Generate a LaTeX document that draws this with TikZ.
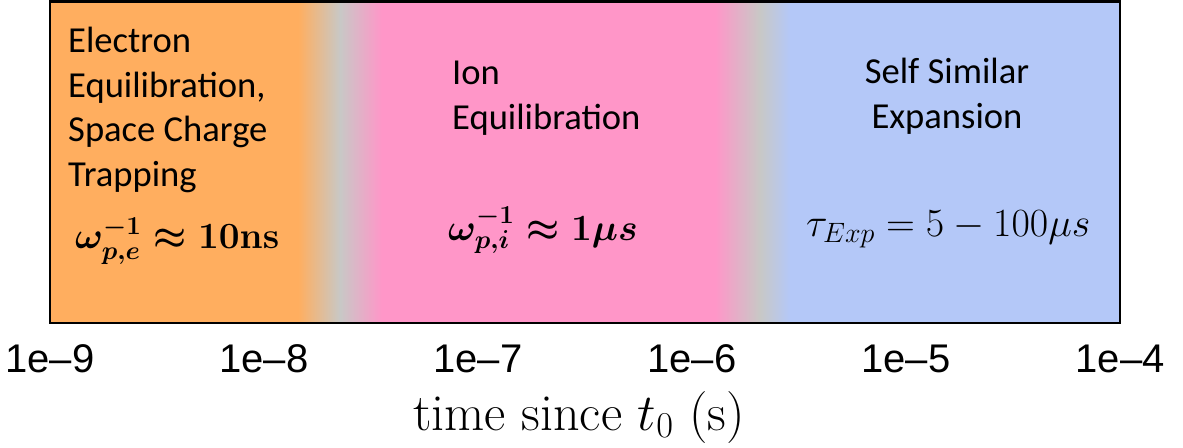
\RequirePackage{fix-cm}
\documentclass[tikz,border=0pt]{standalone}
\usepackage{amsmath}
\usepackage{fontspec}
\newfontfamily\calib{Carlito}
\newfontfamily\helv{Liberation Sans}
\usetikzlibrary{positioning}
\definecolor{eorange}{RGB}{255,174,95}
\definecolor{ipink}{RGB}{255,150,200}
\definecolor{sblue}{RGB}{180,200,248}
\definecolor{mixgray}{RGB}{200,200,198}

\begin{document}
\begin{tikzpicture}[x=1pt,y=-1pt,
  phaselbl/.style={font=\calib\fontsize{36.6}{44.6}\selectfont,inner sep=0pt},
  ratelbl/.style={font=\fontsize{37}{44}\selectfont,inner sep=0pt,anchor=base west},
  ticklbl/.style={font=\helv\fontsize{40}{46}\selectfont,inner sep=0pt,anchor=base}]
  \useasboundingbox (0,0) rectangle (1183,447);

  % the three regimes, blended into each other
  \fill[eorange] (50,1.5) rectangle (298,323);
  \shade[left color=eorange,right color=mixgray] (298,1.5) rectangle (340,323);
  \shade[left color=mixgray,right color=ipink] (340,1.5) rectangle (382,323);
  \fill[ipink] (382,1.5) rectangle (715,323);
  \shade[left color=ipink,right color=mixgray] (715,1.5) rectangle (760,323);
  \shade[left color=mixgray,right color=sblue] (760,1.5) rectangle (790,323);
  \fill[sblue] (790,1.5) rectangle (1120,323);
  \draw[line width=2.5pt] (50,1.5) rectangle (1120,323);

  \node[phaselbl,align=left,anchor=north west] (elec) at (68,27) {Electron\\Equilibration,\\Space Charge\\Trapping};
  \node[ratelbl] (erate) at (75,248) {{\boldmath$\omega^{-1}_{p,e}\approx\mathbf{10ns}$}};

  \node[phaselbl,align=left,anchor=north west] (ion) at (452,61) {Ion\\Equilibration};
  \node[ratelbl] (irate) at (448,240) {{\boldmath$\omega^{-1}_{p,i}\approx 1\mu s$}};

  \node[phaselbl,align=center,anchor=north] (self) at (947,58) {Self Similar\\Expansion};
  \node[ratelbl,font=\fontsize{40}{46}\selectfont] (srate) at (806,236) {$\tau_{Exp}=5-100\mu s$};

  % axis
  \foreach \e [count=\i from 0] in {9,8,7,6,5,4}
    \node[ticklbl] (t\e) at (50+214*\i,372) {1e\textendash\e};
  \node[font=\fontsize{52}{58}\selectfont,inner sep=0pt,anchor=base] (xlabel) at (579,430) {time since $t_0$ (s)};
\end{tikzpicture}
\end{document}
